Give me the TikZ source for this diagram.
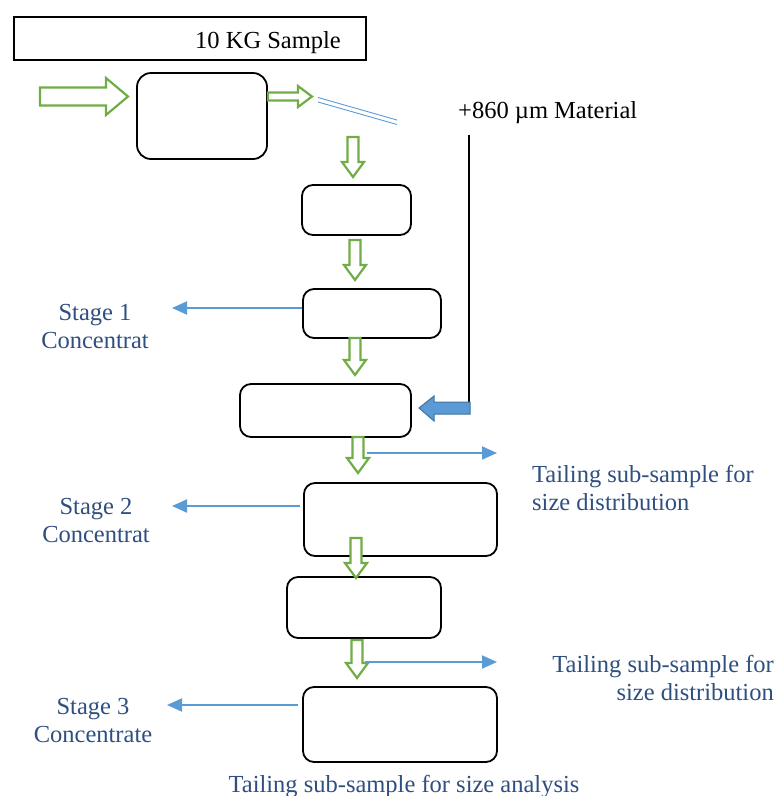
\documentclass[tikz,border=0pt]{standalone}
\usepackage{fontspec}
\setmainfont{Liberation Serif}
\usetikzlibrary{arrows.meta}
\definecolor{grn}{HTML}{70AD47}
\definecolor{lblue}{HTML}{5B9BD5}
\definecolor{dblue}{HTML}{41719C}
\definecolor{tblue}{HTML}{2F4F80}
\tikzset{
  box/.style={draw=black, line width=1.8pt, rounded corners=11pt, fill=white, inner sep=0pt},
  topbox/.style={draw=black, line width=2pt, inner sep=0pt},
  garrow/.style={draw=grn, line width=2.2pt, fill=white, line join=miter},
  barrow/.style={draw=lblue, line width=2pt, -{Triangle[length=15pt,width=13pt]}},
  bigblue/.style={fill=lblue, draw=dblue, line width=1pt},
  lbl/.style={font=\fontsize{24.5}{28}\selectfont, text=tblue, inner sep=0pt},
  blk/.style={font=\fontsize{24.5}{28}\selectfont, text=black, inner sep=0pt}
}
\newcommand\gdown[3]{% cx, ytop, ybottom(tip)
  \draw[garrow] (#1-5.5,#2) -- (#1+5.5,#2) -- (#1+5.5,#3-15) -- (#1+11,#3-15) -- (#1,#3) -- (#1-11,#3-15) -- (#1-5.5,#3-15) -- cycle;}
\begin{document}
\begin{tikzpicture}[x=1pt,y=-1pt]
\useasboundingbox (0,0) rectangle (778,796);
% top sample box
\node[topbox, minimum width=352pt, minimum height=43pt] (top) at (190,38.5) {};
\node[blk, anchor=base west] (toptxt) at (195,48) {10 KG Sample};
% boxes
\node[box, rounded corners=14pt, minimum width=130pt, minimum height=86pt] (b1) at (202,116) {};
\node[box, minimum width=109pt, minimum height=50pt] (b2) at (356.5,210) {};
\node[box, minimum width=138pt, minimum height=49pt] (b3) at (372,313.5) {};
\node[box, minimum width=171pt, minimum height=53pt] (b4) at (325.5,410.5) {};
\node[box, minimum width=193pt, minimum height=73pt] (b5) at (400.5,519.5) {};
\node[box, minimum width=154pt, minimum height=61pt] (b6) at (364,607.5) {};
\node[box, minimum width=194pt, minimum height=75pt] (b7) at (400,724.5) {};
% big input arrow
\draw[garrow] (40,87.5) -- (106,87.5) -- (106,78) -- (128,96.5) -- (106,115) -- (106,105.5) -- (40,105.5) -- cycle;
% small output arrow
\draw[garrow] (b1.east |- 0,92.5) -- (298,92.5) -- (298,86) -- (312,96.5) -- (298,107) -- (298,100.5) -- (b1.east |- 0,100.5) -- cycle;
% double blue lines
\draw[lblue, line width=0.9pt] (318,97.5) -- (397,120);
\draw[lblue, line width=0.9pt] (318,102) -- (397,124.5);
% +860 material
\node[blk, anchor=base west] (mat) at (458,118) {+860 µm Material};
\coordinate (mtop) at (469,135);
\coordinate (mbot) at (469,402);
\draw[black, line width=1.2pt] (mtop) -- (mbot);
\draw[bigblue] (470,402) -- (434,402) -- (434,396) -- (419,408) -- (434,421) -- (434,414) -- (470,414) -- cycle;
% green down arrows
\gdown{353}{137}{177}
\gdown{355}{240}{280}
\gdown{355}{338}{375}
\gdown{358}{437}{473}
\gdown{356}{538}{578}
\gdown{357}{640}{678}
% stage labels
\node[lbl, align=center, anchor=base] (s1) at (95,348) {Stage 1\\Concentrat};
\node[lbl, align=center, anchor=base] (s2) at (96,542) {Stage 2\\Concentrat};
\node[lbl, align=center, anchor=base] (s3) at (93,742) {Stage 3\\Concentrate};
\coordinate (s1t) at (172,308);
\coordinate (s2t) at (172,506);
\coordinate (s3t) at (167,705);
\draw[barrow] (b3.west |- s1t) -- (s1t);
\draw[barrow] (300,506) -- (s2t);
\draw[barrow] (298,705) -- (s3t);
% tailing labels
\node[lbl, align=left, anchor=base west] (t1) at (532,510) {Tailing sub-sample for\\size distribution};
\node[lbl, align=right, anchor=base east] (t2) at (774,700) {Tailing sub-sample for\\size distribution};
\coordinate (t1s) at (367,453);
\coordinate (t1e) at (497,453);
\coordinate (t2s) at (365,662);
\coordinate (t2e) at (497,662);
\draw[barrow] (t1s) -- (t1e);
\draw[barrow] (t2s) -- (t2e);
% bottom label
\node[lbl, anchor=base] (bot) at (404,792) {Tailing sub-sample for size analysis};
\end{tikzpicture}
\end{document}
